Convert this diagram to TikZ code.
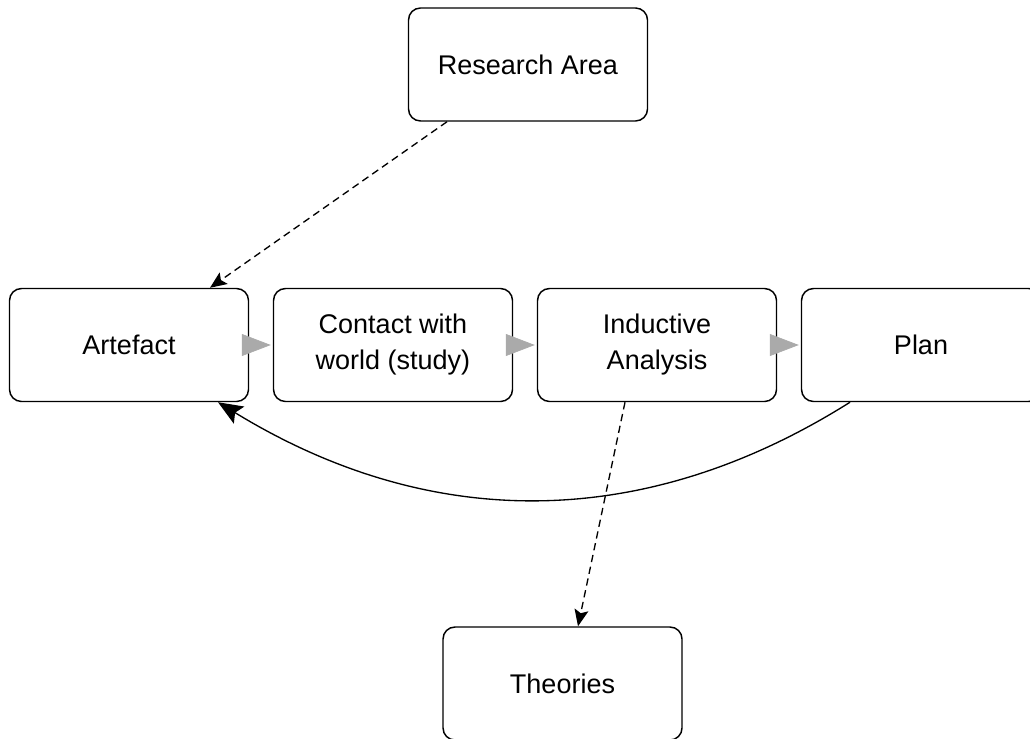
\documentclass[tikz,border=0pt]{standalone}
\usepackage{fontspec}
\setmainfont{Liberation Sans}
\usetikzlibrary{arrows.meta,calc}
\definecolor{tipgray}{RGB}{170,170,170}
\begin{document}
\begin{tikzpicture}[x=0.75pt,y=-0.75pt,
  box/.style={draw=black,line width=1.1pt,rounded corners=9pt,minimum width=179.25pt,minimum height=84.75pt,
    align=center,font=\fontsize{20.25}{27}\selectfont,inner sep=0pt},
  flow/.style={draw=tipgray,line width=0.5pt,-{Triangle[length=21.75pt,width=16.5pt]},shorten >=1.5pt},
  dashlink/.style={draw=black,line width=1pt,dash pattern=on 5.5pt off 3.5pt,-{Stealth[length=12.5pt,width=10.5pt,inset=2.5pt]}},
  back/.style={draw=black,line width=1pt,-{Stealth[length=18.5pt,width=15pt,inset=3.5pt]}}]
\useasboundingbox (0,0) rectangle (1030,738);
\clip (0,0) rectangle (1030,738);
\node[box] (research) at (528,64.5) {Research Area};
\node[box] (artefact) at (129,345) {Artefact};
\node[box] (contact) at (393,345) {Contact with\\world (study)};
\node[box] (inductive) at (657,345) {Inductive\\Analysis};
\node[box] (plan) at (921,345) {Plan};
\node[box] (theories) at (562.5,683.5) {Theories};
\draw[flow] (artefact.east) -- (contact.west);
\draw[flow] (contact.east) -- (inductive.west);
\draw[flow] (inductive.east) -- (plan.west);
\draw[dashlink] ($(research.south)+(-81,0)$) -- ($(artefact.north)+(81,0)$);
\draw[dashlink] ($(inductive.south)+(-32,0)$) -- ($(theories.north)+(15.5,0)$);
\draw[back] ($(plan.south)+(-71,0)$) .. controls (644,532) and (430,532) .. ($(artefact.south)+(89,0)$);
\end{tikzpicture}
\end{document}
